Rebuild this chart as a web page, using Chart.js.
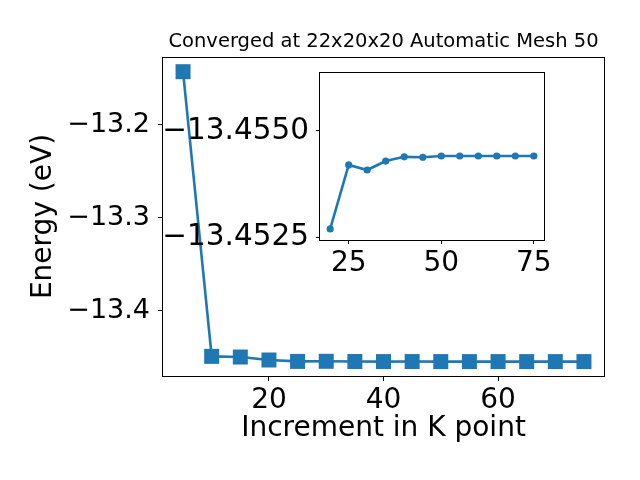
<!DOCTYPE html>
<html>
<head>
<meta charset="utf-8">
<script src="https://cdn.jsdelivr.net/npm/chart.js@4.4.1/dist/chart.umd.min.js"></script>
<style>
  html, body { margin: 0; padding: 0; background: #fff; }
  #wrap { position: relative; width: 640px; height: 480px; }
  #main { position: absolute; left: 0; top: 0; }
  #inset { position: absolute; left: 150px; top: 60px; }
</style>
</head>
<body>
<div id="wrap">
  <canvas id="main" width="640" height="480" style="width:640px;height:480px"></canvas>
  <canvas id="inset" width="410" height="220" style="width:410px;height:220px"></canvas>
</div>
<script>
// ── data ─────────────────────────────────────────────
const kpoints = [5, 10, 15, 20, 25, 30, 35, 40, 45, 50, 55, 60, 65, 70, 75];
const energy  = [-13.1427, -13.4488, -13.4495, -13.45269, -13.45420, -13.45408, -13.45429,
                 -13.45439, -13.45438, -13.45441, -13.45441, -13.45441, -13.45441, -13.45441, -13.45441];
const insetFrom = 3;                 // inset zooms in from k = 20
const mainXTicks  = [20, 40, 60];
const mainYTicks  = [-13.4, -13.3, -13.2];
const insetXTicks = [25, 50, 75];
const insetYTicks = [-13.4550, -13.4525];

const BLUE = '#1f77b4';
const FONT = 'DejaVu Sans';
const minus = s => s.replace('-', '\u2212');

// box round the plot area (matplotlib spines)
const frame = {
  id: 'frame',
  afterDraw(chart) {
    const { ctx, chartArea: a } = chart;
    ctx.save();
    ctx.strokeStyle = '#000'; ctx.lineWidth = 1;
    ctx.strokeRect(Math.round(a.left) - 0.5, Math.round(a.top) + 0.5,
                   Math.round(a.right - a.left) + 1, Math.round(a.bottom - a.top));
    ctx.restore();
  }
};

const axis = (tickVals, fmt, size, tickLen, pad, extra) => ({
  type: 'linear',
  afterBuildTicks: s => { s.ticks = tickVals.map(v => ({ value: v })); },
  ticks: { color: '#000', font: { family: FONT, size }, padding: pad, maxRotation: 0, autoSkip: false, callback: fmt },
  grid: { display: true, drawOnChartArea: false, drawTicks: true, tickLength: tickLen, tickColor: '#000', tickWidth: 1 },
  border: { display: false },
  ...extra
});

const xy = (xs, ys) => xs.map((x, i) => ({ x, y: ys[i] }));

// ── main chart ───────────────────────────────────────
new Chart(document.getElementById('main'), {
  type: 'line',
  data: { datasets: [{
    data: xy(kpoints, energy),
    borderColor: BLUE, backgroundColor: BLUE, borderWidth: 2.6,
    pointStyle: 'rect', pointRadius: 10.6, pointBorderWidth: 0, pointBackgroundColor: BLUE,
    tension: 0, clip: false
  }] },
  options: {
    responsive: false, animation: false, devicePixelRatio: 1,
    layout: { padding: { top: 0, right: 36, left: 0, bottom: 0 } },
    plugins: {
      legend: { display: false }, tooltip: { enabled: false },
      title: { display: true, fullSize: false, text: 'Converged at 22x20x20 Automatic Mesh 50', color: '#000',
               font: { family: FONT, size: 19.5, weight: 'normal' }, padding: { top: 30, bottom: 3.6 } }
    },
    scales: {
      x: axis(mainXTicks, v => String(v), 28, 5, 3, {
        min: 1.5, max: 78.5,
        afterFit: s => { s.height = 104; s.paddingLeft = 0; s.paddingRight = 0; },
        title: { display: true, text: 'Increment in K point', color: '#000', font: { family: FONT, size: 28 }, padding: { top: 0, bottom: 34 } }
      }),
      y: axis(mainYTicks, v => minus(v.toFixed(1)), 27, 5, 8, {
        min: -13.4699, max: -13.1269,
        afterFit: s => { s.width = 163; s.paddingTop = 0; s.paddingBottom = 0; },
        title: { display: true, text: 'Energy (eV)', color: '#000', font: { family: FONT, size: 28 }, padding: { top: 27, bottom: 0 } }
      })
    }
  },
  plugins: [frame]
});

// ── inset ────────────────────────────────────────────
new Chart(document.getElementById('inset'), {
  type: 'line',
  data: { datasets: [{
    data: xy(kpoints.slice(insetFrom), energy.slice(insetFrom)),
    borderColor: BLUE, backgroundColor: BLUE, borderWidth: 2.6,
    pointStyle: 'circle', pointRadius: 3.6, pointBorderWidth: 0, pointBackgroundColor: BLUE,
    tension: 0, clip: false
  }] },
  options: {
    responsive: false, animation: false, devicePixelRatio: 1,
    layout: { padding: { top: 12, right: 16, left: 0, bottom: 0 } },
    plugins: { legend: { display: false }, tooltip: { enabled: false } },
    scales: {
      x: axis(insetXTicks, v => String(v), 28, 4, 3, {
        min: 17.25, max: 77.75,
        afterFit: s => { s.height = 40; s.paddingLeft = 0; s.paddingRight = 0; }
      }),
      y: axis(insetYTicks, v => minus(v.toFixed(4)), 29.5, 4, 7, {
        min: -13.45639, max: -13.45243, reverse: true,
        afterFit: s => { s.width = 170; s.paddingTop = 0; s.paddingBottom = 0; }
      })
    }
  },
  plugins: [frame]
});
</script>
</body>
</html>
